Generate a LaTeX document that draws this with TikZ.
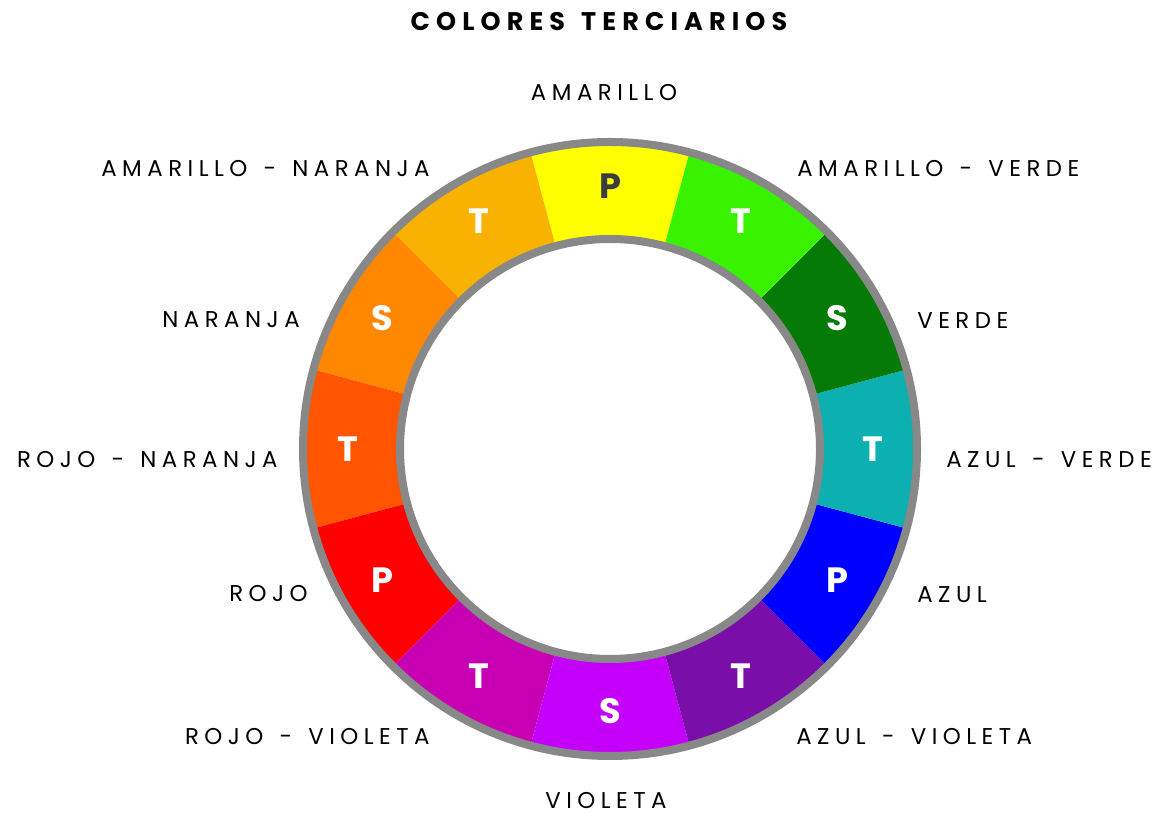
\documentclass[tikz,border=0pt]{standalone}
\usepackage{fontspec}
\setmainfont{Poppins}
\newfontfamily\lblfont[LetterSpace=24]{Poppins}
\newfontfamily\ttlfont[LetterSpace=24,WordSpace=1.4]{Poppins}
\definecolor{cwyellow}{RGB}{255, 255, 0}
\definecolor{cwyelorange}{RGB}{250, 178, 0}
\definecolor{cworange}{RGB}{255, 136, 0}
\definecolor{cwredorange}{RGB}{255, 85, 0}
\definecolor{cwred}{RGB}{255, 0, 0}
\definecolor{cwredviolet}{RGB}{200, 0, 180}
\definecolor{cwviolet}{RGB}{196, 0, 250}
\definecolor{cwblueviolet}{RGB}{122, 14, 168}
\definecolor{cwblue}{RGB}{0, 0, 255}
\definecolor{cwbluegreen}{RGB}{12, 176, 176}
\definecolor{cwgreen}{RGB}{6, 122, 6}
\definecolor{cwyelgreen}{RGB}{56, 242, 0}
\definecolor{cwrim}{RGB}{136, 136, 136}
\definecolor{cwdark}{RGB}{60, 60, 60}

\begin{document}
\begin{tikzpicture}[
    colorname/.style={font=\lblfont\fontsize{13}{15}\selectfont, text=black, inner sep=0pt},
    seglabel/.style={font=\bfseries\fontsize{20}{20}\selectfont, inner sep=0pt}
  ]
  \useasboundingbox (0,0) rectangle (23.16,16.32);

  % Title
  \node[font=\ttlfont\bfseries\fontsize{14.5}{16}\selectfont] (title) at (11.98,15.88) {COLORES TERCIARIOS};

  % Color wheel
  \begin{scope}[shift={(12.2,7.34)}]
    \foreach \ang/\col/\lt/\txt/\nm in {
        90/cwyellow/P/cwdark/sp, 120/cwyelorange/T/white/syo, 150/cworange/S/white/so,
        180/cwredorange/T/white/sro, 210/cwred/P/white/sr, 240/cwredviolet/T/white/srv,
        270/cwviolet/S/white/sv, 300/cwblueviolet/T/white/sbv, 330/cwblue/P/white/sb,
        0/cwbluegreen/T/white/sbg, 30/cwgreen/S/white/sg, 60/cwyelgreen/T/white/syg} {
      \fill[\col] (\ang-15:6.14) arc (\ang-15:\ang+15:6.14) -- (\ang+15:4.2)
        arc (\ang+15:\ang-15:4.2) -- cycle;
      \node[seglabel, text=\txt] (\nm) at (\ang:5.25) {\lt};
    }
    % Rims
    \draw[cwrim, line width=0.16cm] (0,0) circle (6.14);
    \draw[cwrim, line width=0.16cm] (0,0) circle (4.2);
  \end{scope}

  % Color names
  \node[colorname] (amarillo) at (12.08,14.46) {AMARILLO};
  \node[colorname, anchor=east] (amnar) at (8.60,12.94) {AMARILLO - NARANJA};
  \node[colorname, anchor=west] (amver) at (15.94,12.94) {AMARILLO - VERDE};
  \node[colorname, anchor=east] (naranja) at (6.00,9.92) {NARANJA};
  \node[colorname, anchor=west] (verde) at (18.34,9.90) {VERDE};
  \node[colorname, anchor=east] (rojnar) at (5.56,7.12) {ROJO - NARANJA};
  \node[colorname, anchor=west] (azuver) at (18.92,7.12) {AZUL - VERDE};
  \node[colorname, anchor=east] (rojo) at (6.16,4.44) {ROJO};
  \node[colorname, anchor=west] (azul) at (18.34,4.42) {AZUL};
  \node[colorname, anchor=east] (rojvio) at (8.60,1.58) {ROJO - VIOLETA};
  \node[colorname, anchor=west] (azuvio) at (15.92,1.58) {AZUL - VIOLETA};
  \node[colorname] (violeta) at (12.12,0.30) {VIOLETA};
\end{tikzpicture}
\end{document}
